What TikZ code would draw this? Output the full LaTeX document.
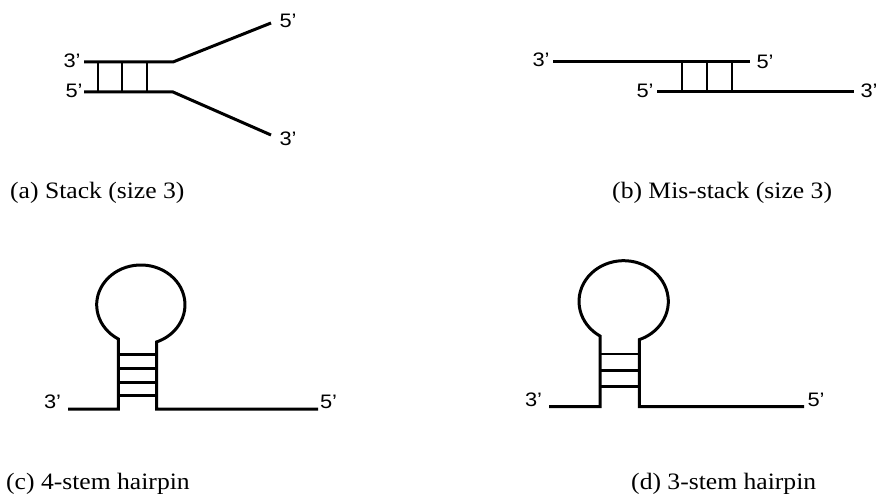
\documentclass[tikz,border=0pt]{standalone}
\usepackage{fontspec}
\setmainfont{Liberation Serif}
\newfontfamily\labfont{Liberation Sans}
\begin{document}
\begin{tikzpicture}[x=1pt,y=-1pt,
  strand/.style={line width=3pt},
  rung/.style={line width=2.6pt},
  lab/.style={font=\labfont\fontsize{19.5}{21}\selectfont, inner sep=0pt, xscale=1.12, transform shape},
  captext/.style={font=\fontsize{23.5}{26}\selectfont, inner sep=0pt, anchor=base west, xscale=1.09, transform shape}]
\useasboundingbox (0,0) rectangle (877,500);

% ---------- (a) Stack ----------
\coordinate (a1) at (84,62);  \coordinate (a2) at (173,62);  \coordinate (a3) at (271,23);
\coordinate (b1) at (84,92);  \coordinate (b2) at (173,92);  \coordinate (b3) at (271,135);
\draw[strand] (a1) -- (a2) -- (a3);
\draw[strand] (b1) -- (b2) -- (b3);
\foreach \x in {98,122,147} \draw[rung] (\x,62) -- (\x,92);
\node[lab] (la1) at (72,61) {3’};
\node[lab] (la2) at (74,91) {5’};
\node[lab] (la3) at (288,21) {5’};
\node[lab] (la4) at (288,139) {3’};
\node[captext] (capa) at (10,198) {(a) Stack (size 3)};

% ---------- (b) Mis-stack ----------
\coordinate (c1) at (553,62);  \coordinate (c2) at (750,62);
\coordinate (d1) at (657,92);  \coordinate (d2) at (854,92);
\draw[strand] (c1) -- (c2);
\draw[strand] (d1) -- (d2);
\foreach \x in {682,707,732} \draw[rung] (\x,62) -- (\x,92);
\node[lab] (lb1) at (541,60) {3’};
\node[lab] (lb2) at (765,61.5) {5’};
\node[lab] (lb3) at (645,90.5) {5’};
\node[lab] (lb4) at (869,91) {3’};
\node[captext] (capb) at (612,198) {(b) Mis-stack (size 3)};

% ---------- (c) 4-stem hairpin ----------
\draw[strand] (68,409) -- (118.3,409) -- (118.3,339)
  arc[start angle=239.3, end angle=-69, x radius=44.15pt, y radius=39.8pt]
  -- (156.7,409) -- (318,409);
\foreach \y in {354.3,368.3,382.7,395.7} \draw[rung] (118.3,\y) -- (156.7,\y);
\node[lab] (lc1) at (52.5,401.5) {3’};
\node[lab] (lc2) at (328.5,401.5) {5’};
\node[captext] (capc) at (6,489) {(c) 4-stem hairpin};

% ---------- (d) 3-stem hairpin ----------
\draw[strand] (549,406.7) -- (600,406.7) -- (600,336)
  arc[start angle=238, end angle=-69.5, x radius=44.65pt, y radius=40.75pt]
  -- (639.3,406.7) -- (804,406.7);
\foreach \y in {354,370.7,386.7} \draw[rung] (600,\y) -- (639.3,\y);
\node[lab] (ld1) at (533.5,400) {3’};
\node[lab] (ld2) at (816,400) {5’};
\node[captext] (capd) at (631,489) {(d) 3-stem hairpin};
\end{tikzpicture}
\end{document}
